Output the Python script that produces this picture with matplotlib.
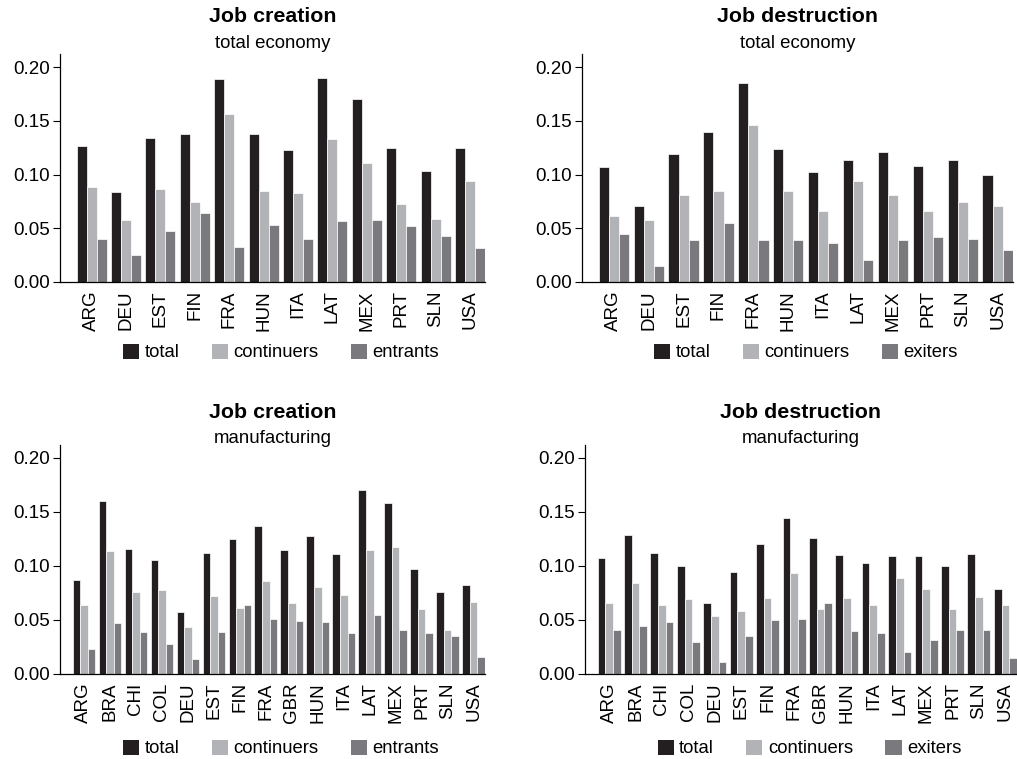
import matplotlib
matplotlib.use("Agg")
import numpy as np
import matplotlib.pyplot as plt
from matplotlib.patches import Patch

plt.rcParams['font.family'] = ['Liberation Sans', 'DejaVu Sans']

# -------------------------------
# data
# -------------------------------
countries_total = ["ARG", "DEU", "EST", "FIN", "FRA", "HUN", "ITA", "LAT", "MEX", "PRT", "SLN", "USA"]
countries_manuf = ["ARG", "BRA", "CHI", "COL", "DEU", "EST", "FIN", "FRA", "GBR", "HUN", "ITA", "LAT",
                   "MEX", "PRT", "SLN", "USA"]

# job creation, total economy
jc_tot_total = [0.127, 0.084, 0.134, 0.138, 0.189, 0.138, 0.123, 0.190, 0.170, 0.125, 0.103, 0.125]
jc_tot_cont = [0.088, 0.058, 0.087, 0.0745, 0.156, 0.085, 0.083, 0.133, 0.111, 0.073, 0.059, 0.094]
jc_tot_entr = [0.040, 0.025, 0.047, 0.064, 0.033, 0.053, 0.040, 0.057, 0.058, 0.052, 0.043, 0.032]

# job destruction, total economy
jd_tot_total = [0.107, 0.071, 0.119, 0.140, 0.185, 0.124, 0.102, 0.114, 0.121, 0.108, 0.114, 0.100]
jd_tot_cont = [0.0615, 0.058, 0.081, 0.085, 0.146, 0.085, 0.066, 0.094, 0.081, 0.066, 0.0745, 0.071]
jd_tot_exit = [0.045, 0.015, 0.039, 0.055, 0.039, 0.039, 0.036, 0.020, 0.039, 0.042, 0.040, 0.030]

# job creation, manufacturing
jc_man_total = [0.087, 0.160, 0.116, 0.105, 0.057, 0.112, 0.125, 0.137, 0.115, 0.128, 0.111, 0.170,
                0.158, 0.0975, 0.076, 0.0825]
jc_man_cont = [0.064, 0.1135, 0.076, 0.0775, 0.043, 0.072, 0.061, 0.086, 0.0655, 0.080, 0.073, 0.115,
               0.117, 0.060, 0.041, 0.0665]
jc_man_entr = [0.023, 0.047, 0.039, 0.028, 0.014, 0.039, 0.064, 0.051, 0.049, 0.048, 0.038, 0.055,
               0.041, 0.0375, 0.035, 0.0157]

# job destruction, manufacturing
jd_man_total = [0.107, 0.129, 0.112, 0.0997, 0.0655, 0.094, 0.120, 0.1446, 0.1255, 0.110, 0.103, 0.109,
                0.109, 0.100, 0.111, 0.0785]
jd_man_cont = [0.066, 0.084, 0.064, 0.069, 0.054, 0.058, 0.070, 0.093, 0.060, 0.070, 0.064, 0.089,
               0.079, 0.060, 0.071, 0.064]
jd_man_exit = [0.041, 0.0446, 0.048, 0.030, 0.011, 0.035, 0.050, 0.051, 0.0655, 0.040, 0.038, 0.0206,
               0.031, 0.041, 0.041, 0.015]

colors = ["#231f20", "#b1b3b6", "#7a7a7e"]

W, H = 1017, 759


def draw_panel(ax, countries, series, labels, title, subtitle, title_y, sub_y, leg_y):
    x = np.arange(len(countries))
    w = 0.29
    for k, (vals, col) in enumerate(zip(series, colors)):
        ax.bar(x + (k - 1) * w, vals, w, color=col, edgecolor="white", linewidth=0.5)
    ax.set_xlim(-0.92, len(countries) - 1 + 0.44)
    ax.set_ylim(0, 0.212)
    ax.set_yticks([0, 0.05, 0.10, 0.15, 0.20])
    ax.set_yticklabels(["0.00", "0.05", "0.10", "0.15", "0.20"])
    ax.set_xticks(x)
    ax.set_xticklabels(countries, rotation=90)
    ax.tick_params(axis="x", length=0, pad=6, labelsize=13.5)
    ax.tick_params(axis="y", length=5, width=0.8, labelsize=13.5, pad=2)
    for s in ["top", "right"]:
        ax.spines[s].set_visible(False)
    for s in ["left", "bottom"]:
        ax.spines[s].set_linewidth(0.9)

    # titles at pixel rows measured on the reference
    pos = ax.get_position()
    cx = pos.x0 + pos.width / 2
    fig.text(cx, 1 - title_y / H, title, ha="center", va="center",
             fontsize=15.4, fontweight="bold")
    fig.text(cx, 1 - sub_y / H, subtitle, ha="center", va="center", fontsize=13.4)

    handles = [Patch(facecolor=c, edgecolor="none") for c in colors]
    ax.legend(handles, labels, loc="center", bbox_to_anchor=(0.52, leg_y), ncol=3,
              frameon=False, fontsize=13.3, handlelength=0.87, handleheight=0.87,
              handletextpad=0.3, columnspacing=1.75, borderaxespad=0)


fig = plt.figure(figsize=(W / 100, H / 100), dpi=100)

ax1 = fig.add_axes([0.059, 0.6285, 0.418, 0.300])
ax2 = fig.add_axes([0.572, 0.6285, 0.424, 0.300])
ax3 = fig.add_axes([0.059, 0.112, 0.418, 0.302])
ax4 = fig.add_axes([0.575, 0.112, 0.425, 0.302])

draw_panel(ax1, countries_total, [jc_tot_total, jc_tot_cont, jc_tot_entr],
           ["total", "continuers", "entrants"], "Job creation", "total economy", 16, 43, -0.31)
draw_panel(ax2, countries_total, [jd_tot_total, jd_tot_cont, jd_tot_exit],
           ["total", "continuers", "exiters"], "Job destruction", "total economy", 16, 43, -0.31)
draw_panel(ax3, countries_manuf, [jc_man_total, jc_man_cont, jc_man_entr],
           ["total", "continuers", "entrants"], "Job creation", "manufacturing", 412, 439, -0.325)
draw_panel(ax4, countries_manuf, [jd_man_total, jd_man_cont, jd_man_exit],
           ["total", "continuers", "exiters"], "Job destruction", "manufacturing", 412, 439, -0.325)

fig.savefig("out.png", dpi=100)
